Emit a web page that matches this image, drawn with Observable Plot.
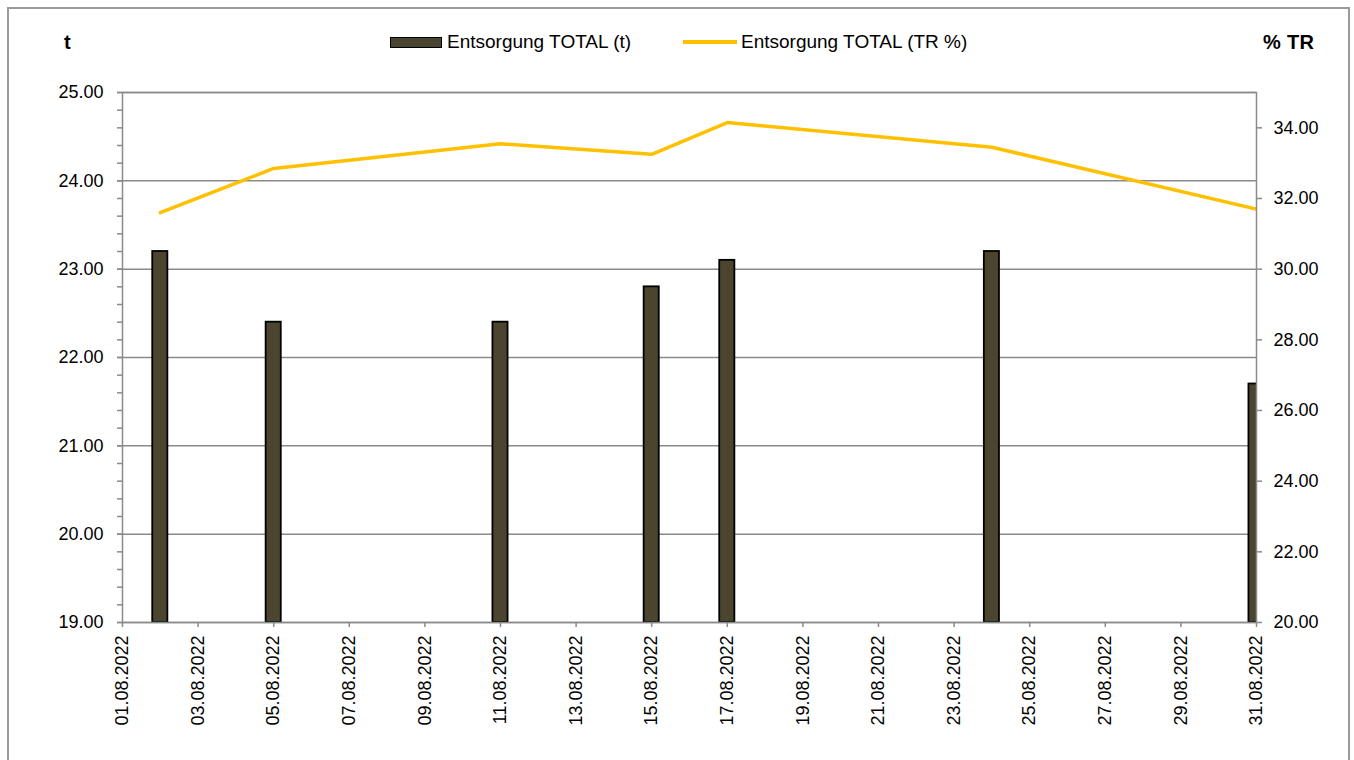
<!DOCTYPE html>
<html>
<head>
<meta charset="utf-8">
<script src="https://cdn.jsdelivr.net/npm/d3@7"></script>
<script src="https://cdn.jsdelivr.net/npm/@observablehq/plot@0.6"></script>
<style>
  html, body { margin: 0; padding: 0; background: #fff; }
  body { width: 1354px; height: 760px; overflow: hidden; position: relative; font-family: "Liberation Sans", Arial, sans-serif; }
  #border { position: absolute; left: 7px; top: 7px; width: 1343px; height: 800px; border: 2px solid #9a9a9a; box-sizing: border-box; z-index: 10; pointer-events: none; background: transparent; }
  .hdr { position: absolute; top: 30px; height: 24px; line-height: 24px; font-size: 19px; color: #000; white-space: nowrap; }
  .bold { font-weight: bold; font-size: 20px; }
  #sw1 { position: absolute; left: 390px; top: 37px; width: 52px; height: 11px; background: #4b4530; border: 1.5px solid #000; box-sizing: border-box; }
  #sw2 { position: absolute; left: 683px; top: 40px; width: 54px; height: 4px; background: #ffc000; }
  #chart { position: absolute; left: 0; top: 62px; }
</style>
</head>
<body>
<div class="hdr bold" style="left:64px;">t</div>
<div id="sw1"></div>
<div class="hdr" style="left:447px;">Entsorgung TOTAL (t)</div>
<div id="sw2"></div>
<div class="hdr" style="left:741px;">Entsorgung TOTAL (TR %)</div>
<div class="hdr bold" style="left:1263px; letter-spacing:0.3px;">% TR</div>
<div id="chart"></div>
<div id="border"></div>
<script>
// ---- data ----
const dates = ["02.08.2022", "05.08.2022", "11.08.2022", "15.08.2022", "17.08.2022", "24.08.2022", "31.08.2022"];
const tonnes = [23.2, 22.4, 22.4, 22.8, 23.1, 23.2, 21.7];
const trPercent = [31.6, 32.85, 33.55, 33.25, 34.15, 33.45, 31.7];
const leftTicks = [19, 20, 21, 22, 23, 24, 25];
const rightTicks = [20, 22, 24, 26, 28, 30, 32, 34];
const xTickLabels = ["01.08.2022", "03.08.2022", "05.08.2022", "07.08.2022", "09.08.2022", "11.08.2022", "13.08.2022", "15.08.2022",
  "17.08.2022", "19.08.2022", "21.08.2022", "23.08.2022", "25.08.2022", "27.08.2022", "29.08.2022", "31.08.2022"];
const leftDomain = [19, 25];
const rightDomain = [20, 35];

// ---- helpers ----
const parse = d3.utcParse("%d.%m.%Y");
const fmt = d3.utcFormat("%d.%m.%Y");
const toLeft = v => leftDomain[0] + (v - rightDomain[0]) * (leftDomain[1] - leftDomain[0]) / (rightDomain[1] - rightDomain[0]);
const fromLeft = v => rightDomain[0] + (v - leftDomain[0]) * (rightDomain[1] - rightDomain[0]) / (leftDomain[1] - leftDomain[0]);
const DAY = 864e5;

const data = dates.map((d, i) => ({date: parse(d), t: tonnes[i], tr: trPercent[i]}));
const xTicks = xTickLabels.map(parse);
const minorTicks = d3.range(0, 31).map(i => leftDomain[0] + i * 0.2).filter(v => v <= leftDomain[1] + 1e-9);

const gray = "#8a8a8a";

const chart = Plot.plot({
  width: 1354,
  height: 698,
  marginTop: 30,
  marginLeft: 122,
  marginRight: 98,
  marginBottom: 138,
  style: {fontFamily: "'Liberation Sans', Arial, sans-serif", fontSize: "18px", color: "#000", background: "transparent"},
  x: {type: "utc", domain: [parse("01.08.2022"), parse("31.08.2022")]},
  y: {domain: leftDomain},
  marks: [
    Plot.ruleY(leftTicks, {stroke: gray, strokeWidth: 1.5}),
    Plot.rect(data, {
      x1: d => new Date(+d.date - 0.2 * DAY),
      x2: d => new Date(+d.date + 0.2 * DAY),
      y1: () => leftDomain[0],
      y2: "t",
      fill: "#4b4530",
      stroke: "#000",
      strokeWidth: 1.8,
      clip: true
    }),
    Plot.line(data, {x: "date", y: d => toLeft(d.tr), stroke: "#ffc000", strokeWidth: 3.5, clip: true}),
    Plot.frame({stroke: gray, strokeWidth: 1.5}),
    Plot.axisY(minorTicks, {anchor: "left", tickSize: 5, text: null, stroke: gray, strokeWidth: 1.5, label: null}),
    Plot.axisY(leftTicks, {anchor: "left", tickSize: 5, tickPadding: 14, tickFormat: d => d.toFixed(2), stroke: gray, strokeWidth: 1.5, fill: "#000", label: null}),
    Plot.axisY(rightTicks.map(toLeft), {anchor: "right", tickSize: 5, tickPadding: 12, tickFormat: d => fromLeft(d).toFixed(2), stroke: gray, strokeWidth: 1.5, fill: "#000", label: null}),
    Plot.axisX(xTicks, {anchor: "bottom", tickSize: 5, tickPadding: 8, tickRotate: -90, tickFormat: fmt, stroke: gray, strokeWidth: 1.5, fill: "#000", label: null})
  ]
});
document.getElementById("chart").appendChild(chart);
</script>
</body>
</html>
